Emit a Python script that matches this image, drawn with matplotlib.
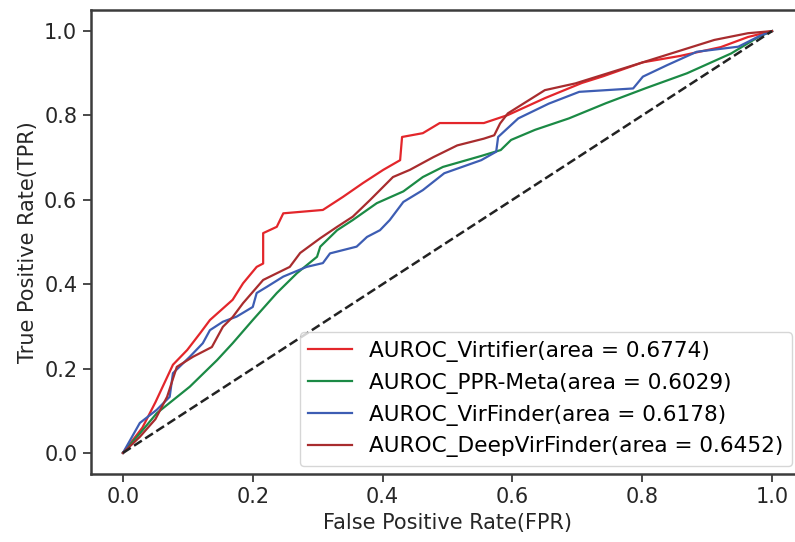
import matplotlib as mpl
mpl.use('Agg')
import matplotlib.pyplot as plt
import numpy as np

# ROC-Kurven, Werte
fpr_virtifier = [0, 0.03, 0.05, 0.077, 0.099, 0.119, 0.134, 0.169, 0.185, 0.206, 0.216, 0.216,
                 0.237, 0.247, 0.308, 0.339, 0.37, 0.401, 0.427, 0.43, 0.462, 0.488, 0.556,
                 0.593, 0.65, 0.707, 0.74, 0.801, 0.858, 0.921, 0.963, 1]
tpr_virtifier = [0, 0.06, 0.12, 0.209, 0.244, 0.284, 0.315, 0.363, 0.402, 0.441, 0.449, 0.521,
                 0.536, 0.568, 0.576, 0.607, 0.64, 0.671, 0.694, 0.749, 0.758, 0.782, 0.782,
                 0.801, 0.841, 0.877, 0.893, 0.926, 0.941, 0.962, 0.986, 1]

fpr_pprmeta = [0, 0.026, 0.052, 0.103, 0.145, 0.169, 0.2, 0.237, 0.268, 0.299, 0.304, 0.33,
               0.354, 0.391, 0.432, 0.462, 0.493, 0.552, 0.582, 0.598, 0.635, 0.687, 0.744,
               0.806, 0.869, 0.937, 0.979, 1]
tpr_pprmeta = [0, 0.046, 0.094, 0.157, 0.22, 0.26, 0.315, 0.379, 0.426, 0.465, 0.489, 0.528,
               0.552, 0.592, 0.62, 0.654, 0.678, 0.704, 0.718, 0.742, 0.766, 0.793, 0.829,
               0.865, 0.9, 0.947, 0.986, 1]

fpr_virfinder = [0, 0.026, 0.052, 0.072, 0.077, 0.103, 0.123, 0.134, 0.154, 0.175, 0.2, 0.206,
                 0.222, 0.247, 0.283, 0.308, 0.319, 0.36, 0.376, 0.396, 0.411, 0.432, 0.462,
                 0.495, 0.552, 0.575, 0.578, 0.609, 0.656, 0.703, 0.786, 0.801, 0.838, 0.884,
                 0.948, 0.979, 1]
tpr_virfinder = [0, 0.071, 0.102, 0.133, 0.189, 0.228, 0.26, 0.291, 0.311, 0.323, 0.346, 0.379,
                 0.394, 0.418, 0.441, 0.45, 0.473, 0.489, 0.512, 0.528, 0.552, 0.595, 0.623,
                 0.663, 0.694, 0.714, 0.749, 0.793, 0.828, 0.856, 0.864, 0.892, 0.919, 0.951,
                 0.963, 0.987, 1]

fpr_deepvf = [0, 0.026, 0.05, 0.068, 0.083, 0.108, 0.137, 0.154, 0.169, 0.185, 0.216, 0.257,
              0.273, 0.304, 0.33, 0.354, 0.381, 0.416, 0.442, 0.478, 0.515, 0.556, 0.572,
              0.581, 0.593, 0.65, 0.697, 0.801, 0.853, 0.911, 0.963, 1]
tpr_deepvf = [0, 0.038, 0.08, 0.133, 0.204, 0.228, 0.251, 0.299, 0.322, 0.355, 0.41, 0.441,
              0.474, 0.509, 0.536, 0.56, 0.6, 0.654, 0.671, 0.701, 0.729, 0.745, 0.753,
              0.781, 0.805, 0.86, 0.876, 0.926, 0.951, 0.979, 0.995, 1]

labels = ['AUROC_Virtifier(area = 0.6774)', 'AUROC_PPR-Meta(area = 0.6029)',
          'AUROC_VirFinder(area = 0.6178)', 'AUROC_DeepVirFinder(area = 0.6452)']
farben = ['#e3262b', '#1b8a45', '#3d5db3', '#a82c2e']

mpl.rcParams.update({
    'font.family': 'DejaVu Sans',
    'font.size': 15,
    'axes.edgecolor': '#3c3c3c',
    'axes.linewidth': 1.8,
    'xtick.color': '#3c3c3c',
    'ytick.color': '#3c3c3c',
    'xtick.labelcolor': '#262626',
    'ytick.labelcolor': '#262626',
    'xtick.major.size': 6,
    'ytick.major.size': 6,
    'xtick.major.width': 1.3,
    'ytick.major.width': 1.3,
})

fig = plt.figure(figsize=(7.95, 5.42), dpi=100)
ax = fig.add_axes([90.5 / 795, (542 - 474) / 542, 714 / 795, 464 / 542])

ax.plot(fpr_virtifier, tpr_virtifier, color=farben[0], lw=1.6, label=labels[0])
ax.plot(fpr_pprmeta, tpr_pprmeta, color=farben[1], lw=1.6, label=labels[1])
ax.plot(fpr_virfinder, tpr_virfinder, color=farben[2], lw=1.6, label=labels[2])
ax.plot(fpr_deepvf, tpr_deepvf, color=farben[3], lw=1.6, label=labels[3])
ax.plot([0, 1], [0, 1], '--', color='#222222', lw=1.8)

ax.spines['right'].set_visible(False)
ax.set_xlim(-0.05, 1.05)
ax.set_ylim(-0.05, 1.05)
ax.set_xticks(np.arange(0, 1.01, 0.2))
ax.set_yticks(np.arange(0, 1.01, 0.2))
ax.set_xlabel('False Positive Rate(FPR)', color='#262626')
ax.set_ylabel('True Positive Rate(TPR)', color='#262626')

leg = ax.legend(loc='lower right', bbox_to_anchor=(792 / 795, (542 - 466) / 542),
                bbox_transform=fig.transFigure, borderaxespad=0, labelspacing=0.5,
                fontsize=15.6, fancybox=True, framealpha=0.8)
leg.get_frame().set_edgecolor('#cccccc')

fig.savefig('out.png', dpi=100)
print('Fertig')
